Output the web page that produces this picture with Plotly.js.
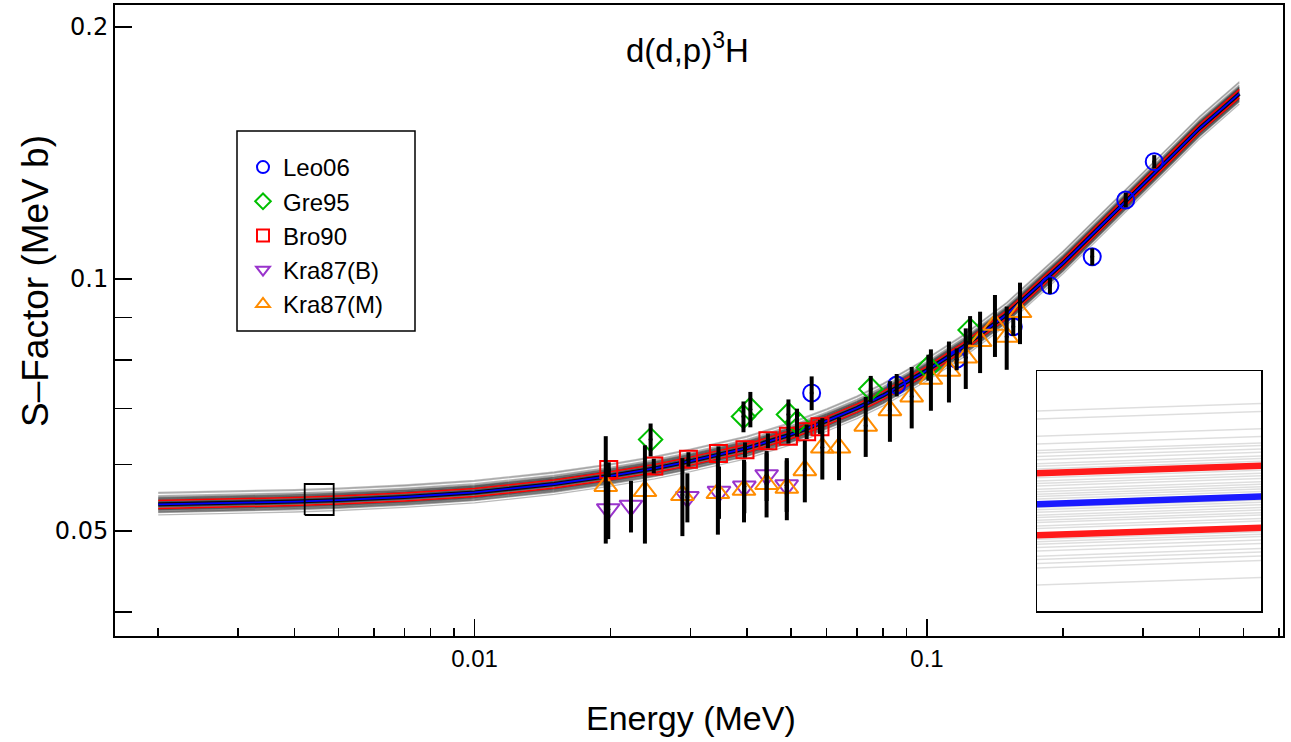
<!DOCTYPE html>
<html>
<head>
<meta charset="utf-8">
<script src="https://cdn.plot.ly/plotly-3.0.1.min.js"></script>
<style>html,body{margin:0;padding:0;background:#fff}#chart{width:1291px;height:742px}</style>
</head>
<body>
<div id="chart"></div>
<script>
// ---- fitted S-factor curve ----
const curveE = [0.002, 0.003, 0.004, 0.005, 0.007, 0.01, 0.015, 0.02, 0.025, 0.03, 0.035, 0.04, 0.05, 0.06, 0.07, 0.08, 0.1, 0.12, 0.15, 0.2, 0.25, 0.3, 0.35, 0.4, 0.45, 0.49];
const curveS = [0.0538, 0.0540, 0.05422, 0.05444, 0.0549, 0.0556, 0.0569, 0.0582, 0.0594, 0.0606, 0.0617, 0.0628, 0.0652, 0.0677, 0.0701, 0.0726, 0.0778, 0.0829, 0.0907, 0.1045, 0.1177, 0.1299, 0.1408, 0.1513, 0.1597, 0.1665];
// 68% band half-width (percent of the median) and positions of the gray Monte-Carlo samples (percent offsets read in the inset)
const band68Pct = 1.1;
const sampleOffsetsPct = [3.36, 3.07, 2.44, 2.16, 1.92, 1.83, 1.71, 1.59, 1.45, 1.36, 1.26, 1.18, 0.94, 0.83, 0.74, 0.65, 0.53, 0.44, 0.35, 0.27, 0.18, 0.08, 0.0, -0.12, -0.20, -0.29, -0.39, -0.47, -0.57, -0.65, -0.77, -0.86, -1.12, -1.24, -1.33, -1.41, -1.53, -1.65, -1.83, -1.95, -2.09, -2.24, -2.83];
// zoom window shown in the inset
const insetE = [0.004214, 0.004884];
const insetS = [0.05225, 0.0569];

// ---- data sets ----
const leoE = [0.0556, 0.0857, 0.1163, 0.1551, 0.1869, 0.2318, 0.2749, 0.3178];
const leoS = [0.0731, 0.0747, 0.0802, 0.0877, 0.0982, 0.1063, 0.1243, 0.1381];
const leoErr = [0.0034, 0.0023, 0.0024, 0.0022, 0.0022, 0.0025, 0.0025, 0.0025];

const greE = [0.0245, 0.0393, 0.0407, 0.0494, 0.0516, 0.0751, 0.1007, 0.1245];
const greS = [0.0643, 0.0685, 0.0699, 0.0689, 0.0674, 0.0739, 0.0784, 0.0869];
const greErr = [0.0029, 0.0029, 0.0034, 0.0029, 0.0026, 0.0027, 0.0028, 0.0034];

const broE = [0.0198, 0.0249, 0.0297, 0.0346, 0.0396, 0.0445, 0.0494, 0.0542, 0.0580];
const broS = [0.0592, 0.0598, 0.0609, 0.0619, 0.0625, 0.0641, 0.0649, 0.0657, 0.0666];
const broErr = [0.0012, 0.0012, 0.0012, 0.0012, 0.0013, 0.0013, 0.0013, 0.0013, 0.0013];

const kraBE = [0.01975, 0.02217, 0.02954, 0.0347, 0.03947, 0.04422, 0.04896];
const kraBS = [0.0531, 0.0536, 0.0549, 0.0557, 0.0565, 0.0583, 0.0567];
const kraBErr = [0.0042, 0.0038, 0.0037, 0.0040, 0.0040, 0.0040, 0.0040];

const kraME = [0.0195, 0.0238, 0.0288, 0.0345, 0.0394, 0.0442, 0.0490, 0.0537, 0.0587, 0.0639, 0.0732, 0.0828, 0.0925, 0.1020, 0.1118, 0.1218, 0.1310, 0.1413, 0.1500, 0.1605];
const kraMS = [0.0566, 0.0558, 0.0552, 0.0555, 0.0560, 0.0569, 0.0563, 0.0591, 0.0629, 0.0629, 0.0668, 0.0697, 0.0724, 0.0760, 0.0777, 0.0806, 0.0843, 0.0882, 0.0853, 0.0913];
const kraMErr = [0.0083, 0.0075, 0.0059, 0.0060, 0.0048, 0.0050, 0.0048, 0.0050, 0.0053, 0.0054, 0.0055, 0.0058, 0.0061, 0.0064, 0.0065, 0.0067, 0.0071, 0.0075, 0.0074, 0.0077];

// ---- axis ticks ----
const xMajorVals = [0.01, 0.1];
const xMajorText = ['0.01', '0.1'];
const xMinorVals = [0.002,0.003,0.004,0.005,0.006,0.007,0.008,0.009,0.02,0.03,0.04,0.05,0.06,0.07,0.08,0.09,0.2,0.3,0.4,0.5,0.6];
const yMajorVals = [0.05, 0.1, 0.2];
const yMajorText = ['0.05', '0.1', '0.2'];
const yMinorVals = [0.04, 0.06, 0.07, 0.08, 0.09];

const scaleCurve = pct => curveS.map(v => v * (1 + pct / 100));
const traces = [];

// main gray samples
sampleOffsetsPct.forEach(p => traces.push({x: curveE, y: scaleCurve(p), mode: 'lines', xaxis: 'x', yaxis: 'y',
  line: {color: 'rgba(0,0,0,0.27)', width: 1.3}, hoverinfo: 'skip', showlegend: false}));
traces.push({x: curveE, y: curveS, mode: 'lines', line: {color: 'rgba(0,0,0,0.85)', width: 4}, showlegend: false, hoverinfo: 'skip'});
traces.push({x: curveE, y: scaleCurve(band68Pct), mode: 'lines', line: {color: '#ff0000', width: 1.5}, showlegend: false});
traces.push({x: curveE, y: scaleCurve(-band68Pct), mode: 'lines', line: {color: '#ff0000', width: 1.5}, showlegend: false});
traces.push({x: curveE, y: curveS, mode: 'lines', line: {color: '#0000ff', width: 1.8}, showlegend: false});
// zoom window box
traces.push({x: [insetE[0], insetE[1], insetE[1], insetE[0], insetE[0]], y: [insetS[0], insetS[0], insetS[1], insetS[1], insetS[0]],
  mode: 'lines', line: {color: 'black', width: 1.8}, showlegend: false, hoverinfo: 'skip'});

// inset
sampleOffsetsPct.forEach(p => traces.push({x: curveE, y: scaleCurve(p), mode: 'lines', xaxis: 'x2', yaxis: 'y2',
  line: {color: 'rgba(0,0,0,0.13)', width: 1.5}, hoverinfo: 'skip', showlegend: false}));
traces.push({x: curveE, y: scaleCurve(band68Pct), mode: 'lines', xaxis: 'x2', yaxis: 'y2', line: {color: '#ff1a1a', width: 6.5}, showlegend: false});
traces.push({x: curveE, y: scaleCurve(-band68Pct), mode: 'lines', xaxis: 'x2', yaxis: 'y2', line: {color: '#ff1a1a', width: 6.5}, showlegend: false});
traces.push({x: curveE, y: curveS, mode: 'lines', xaxis: 'x2', yaxis: 'y2', line: {color: '#1a1aff', width: 6.5}, showlegend: false});

const sets = [
  {name: 'Leo06', E: leoE, S: leoS, err: leoErr, sym: 'circle-open', color: '#0000ff', size: 17},
  {name: 'Gre95', E: greE, S: greS, err: greErr, sym: 'diamond-open', color: '#00c000', size: 18},
  {name: 'Bro90', E: broE, S: broS, err: broErr, sym: 'square-open', color: '#ff0000', size: 17},
  {name: 'Kra87(B)', E: kraBE, S: kraBS, err: kraBErr, sym: 'triangle-down-open', color: '#9933cc', size: 20},
  {name: 'Kra87(M)', E: kraME, S: kraMS, err: kraMErr, sym: 'triangle-up-open', color: '#ff8c00', size: 20}
];
sets.forEach((d, i) => traces.push({x: d.E, y: d.S, name: d.name, mode: 'markers',
  marker: {symbol: d.sym, size: d.size, color: d.color, line: {color: d.color, width: 2}}}));
sets.forEach(d => traces.push({x: d.E, y: d.S, mode: 'markers', showlegend: false,
  marker: {size: 4, color: 'black'},
  error_y: {type: 'data', array: d.err, visible: true, color: 'black', thickness: 4, width: 0}}));

const L = 115, R = 1283, T = 5, B = 636;
const W = R - L, H = B - T;
const px = v => (v - L) / W, py = v => (B - v) / H;

const layout = {
  width: 1291, height: 742,
  margin: {l: L, r: 1291 - R, t: T, b: 742 - B},
  paper_bgcolor: '#ffffff', plot_bgcolor: '#ffffff',
  font: {family: 'Liberation Sans, Arial, sans-serif', color: 'black'},
  showlegend: true,
  legend: {x: px(243), y: py(145), xanchor: 'left', yanchor: 'top', bgcolor: 'rgba(0,0,0,0)', borderwidth: 0,
    font: {size: 24, family: 'Liberation Sans, Arial, sans-serif'}, itemsizing: 'constant', tracegroupgap: 0},
  xaxis: {type: 'log', range: [-2.7945, -0.2133], domain: [0, 1], anchor: 'y',
    showline: true, linewidth: 2, linecolor: 'black', mirror: true, showgrid: false, zeroline: false,
    ticks: 'inside', tickmode: 'array', tickvals: xMajorVals, ticktext: xMajorText, ticklen: 17, tickwidth: 1.5, tickcolor: 'black',
    minor: {tickmode: 'array', tickvals: xMinorVals, ticks: 'inside', ticklen: 8, tickwidth: 1.5, tickcolor: 'black', showgrid: false},
    tickfont: {size: 24, family: 'Liberation Sans, Arial, sans-serif'}},
  yaxis: {type: 'log', range: [-1.42646, -0.67269], domain: [0, 1], anchor: 'x',
    showline: true, linewidth: 2, linecolor: 'black', mirror: true, showgrid: false, zeroline: false,
    ticks: 'inside', tickmode: 'array', tickvals: yMajorVals, ticktext: yMajorText, ticklen: 17, tickwidth: 1.5, tickcolor: 'black',
    minor: {tickmode: 'array', tickvals: yMinorVals, ticks: 'inside', ticklen: 17, tickwidth: 1.5, tickcolor: 'black', showgrid: false},
    tickfont: {size: 24, family: 'DejaVu Sans, sans-serif'}},
  xaxis2: {type: 'log', range: [Math.log10(insetE[0]), Math.log10(insetE[1])], domain: [px(1037), px(1261)], anchor: 'y2',
    showline: true, linewidth: 1.5, linecolor: 'black', mirror: true, showgrid: false, zeroline: false, ticks: '', showticklabels: false},
  yaxis2: {type: 'log', range: [Math.log10(insetS[0]), Math.log10(insetS[1])], domain: [py(611), py(371)], anchor: 'x2',
    showline: true, linewidth: 1.5, linecolor: 'black', mirror: true, showgrid: false, zeroline: false, ticks: '', showticklabels: false},
  shapes: [
    {type: 'rect', xref: 'paper', yref: 'paper', x0: px(237), x1: px(415), y0: py(331), y1: py(131), line: {color: 'black', width: 1.5}, fillcolor: 'rgba(0,0,0,0)'}
  ],
  annotations: [
    {text: 'd(d,p)<sup>3</sup>H', xref: 'paper', yref: 'paper', x: px(687), y: py(48), xanchor: 'center', yanchor: 'middle', showarrow: false,
      font: {size: 33, family: 'Liberation Sans, Arial, sans-serif'}},
    {text: 'Energy (MeV)', xref: 'paper', yref: 'paper', x: px(691), y: py(718), xanchor: 'center', yanchor: 'middle', showarrow: false,
      font: {size: 34, family: 'Liberation Sans, Arial, sans-serif'}},
    {text: 'S–Factor (MeV b)', xref: 'paper', yref: 'paper', x: px(35), y: py(281), xanchor: 'center', yanchor: 'middle', showarrow: false, textangle: -90,
      font: {size: 37, family: 'Liberation Sans, Arial, sans-serif'}}
  ]
};

Plotly.newPlot('chart', traces, layout, {displayModeBar: false, staticPlot: true});
</script>
</body>
</html>
